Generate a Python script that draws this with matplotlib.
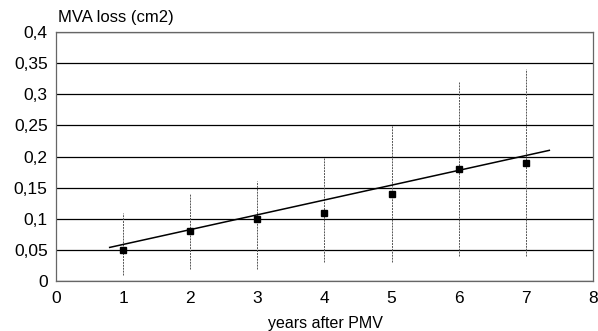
import matplotlib
matplotlib.use("Agg")
import matplotlib.pyplot as plt
from matplotlib.ticker import FuncFormatter

plt.rcParams['font.family'] = ['Liberation Sans', 'DejaVu Sans']

years = [1, 2, 3, 4, 5, 6, 7]
mva_loss = [0.05, 0.08, 0.10, 0.11, 0.14, 0.18, 0.19]
err_low = [0.01, 0.02, 0.02, 0.03, 0.03, 0.04, 0.04]
err_high = [0.11, 0.14, 0.16, 0.20, 0.25, 0.32, 0.34]
trend_x = [0.8, 7.35]
trend_y = [0.054, 0.21]
y_ticks = [0, 0.05, 0.1, 0.15, 0.2, 0.25, 0.3, 0.35, 0.4]
x_ticks = [0, 1, 2, 3, 4, 5, 6, 7, 8]

fig = plt.figure(figsize=(5.98, 3.31), dpi=100)
ax = fig.add_axes([0.0936, 0.151, 0.898, 0.752])

for yt in y_ticks:
    ax.axhline(yt, color='black', lw=0.9, zorder=1)

ax.vlines(years, err_low, err_high, color='#555555', lw=0.7, linestyles=(0, (2, 1)), zorder=2)
ax.plot(trend_x, trend_y, color='black', lw=1.1, zorder=3)
ax.plot(years, mva_loss, 's', color='black', ms=5, zorder=4)

ax.set_xlim(0, 8)
ax.set_ylim(0, 0.4)
ax.set_xticks(x_ticks)
ax.set_yticks(y_ticks)
fmt = FuncFormatter(lambda v, p: ('%g' % round(v, 2)).replace('.', ','))
ax.yaxis.set_major_formatter(fmt)
ax.tick_params(length=0, labelsize=12.5, pad=6)
ax.tick_params(axis='x', pad=7)
for s in ax.spines.values():
    s.set_color('#666666')
    s.set_linewidth(0.9)

fig.text(0.097, 0.925, 'MVA loss (cm2)', fontsize=12, ha='left', va='bottom')
fig.text(0.545, 0.0, 'years after PMV', fontsize=11.5, ha='center', va='bottom')

fig.savefig('out.png', dpi=100)
